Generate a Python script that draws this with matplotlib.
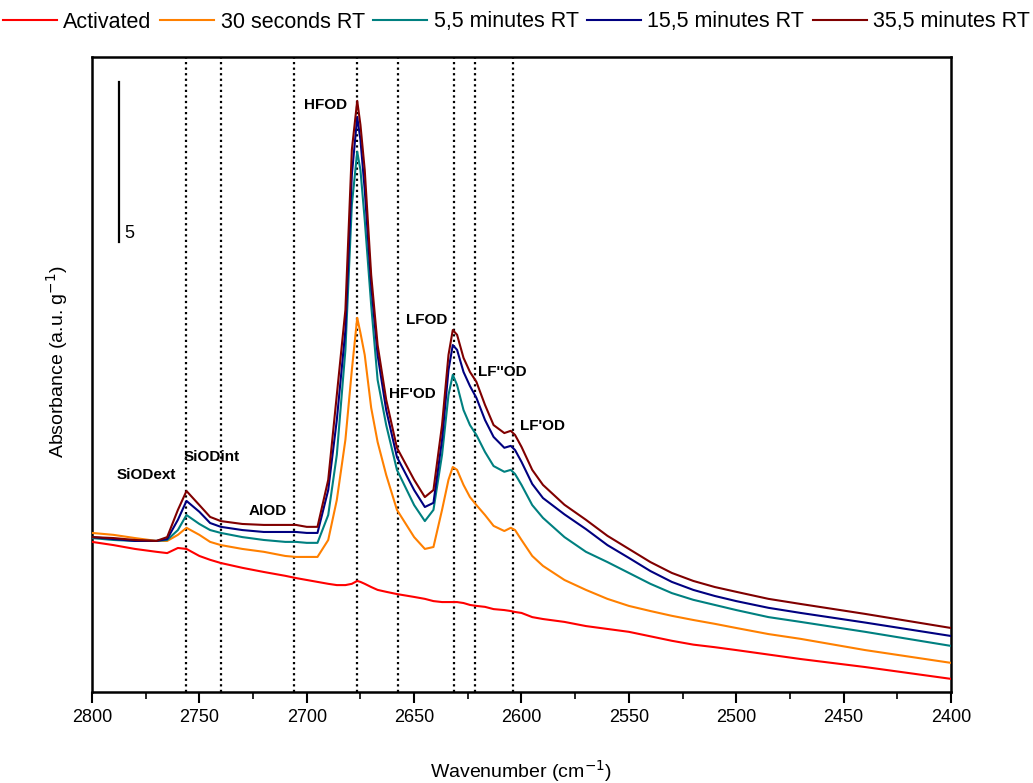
import matplotlib
matplotlib.use("Agg")
import matplotlib.pyplot as plt
from matplotlib.ticker import MultipleLocator

plt.rcParams['font.family'] = ['Liberation Sans', 'DejaVu Sans']

wavenumber = [2800, 2790, 2780, 2770, 2765, 2760, 2756, 2750, 2745, 2740, 2730, 2720, 2710, 2705,
              2700, 2695, 2690, 2686, 2682, 2679, 2676.5, 2675, 2673, 2670, 2667, 2663, 2658, 2650,
              2645, 2641, 2637, 2634, 2632, 2630, 2627, 2624, 2621, 2617, 2613, 2608, 2605, 2603,
              2600, 2595, 2590, 2580, 2570, 2560, 2550, 2540, 2530, 2520, 2510, 2500, 2485, 2470,
              2440, 2400]

activated = [4.69, 4.59, 4.47, 4.38, 4.34, 4.50, 4.47, 4.25, 4.13, 4.03, 3.88, 3.75, 3.63, 3.56,
             3.50, 3.44, 3.38, 3.34, 3.34, 3.38, 3.47, 3.44, 3.38, 3.28, 3.19, 3.13, 3.06, 2.97,
             2.91, 2.84, 2.81, 2.81, 2.81, 2.81, 2.78, 2.72, 2.69, 2.66, 2.59, 2.56, 2.53, 2.50,
             2.47, 2.34, 2.28, 2.19, 2.06, 1.97, 1.88, 1.74, 1.60, 1.48, 1.40, 1.31, 1.17, 1.03,
             0.78, 0.41]

sec30 = [4.97, 4.91, 4.81, 4.72, 4.72, 4.91, 5.13, 4.91, 4.69, 4.59, 4.47, 4.38, 4.25, 4.22,
         4.22, 4.22, 4.75, 6.00, 7.88, 10.06, 11.69, 11.22, 10.53, 8.88, 7.81, 6.78, 5.69, 4.84,
         4.47, 4.53, 5.69, 6.63, 7.03, 6.94, 6.47, 6.09, 5.84, 5.53, 5.19, 5.03, 5.13, 5.06,
         4.75, 4.25, 3.94, 3.50, 3.19, 2.91, 2.69, 2.53, 2.38, 2.25, 2.13, 2.00, 1.81, 1.66,
         1.31, 0.91]

min5_5 = [4.81, 4.75, 4.72, 4.72, 4.75, 5.06, 5.53, 5.25, 5.06, 4.97, 4.84, 4.75, 4.69, 4.69,
          4.66, 4.66, 5.53, 7.41, 10.69, 15.22, 16.88, 16.31, 14.75, 12.09, 9.75, 8.34, 6.94, 5.84,
          5.34, 5.69, 7.41, 9.28, 9.91, 9.59, 8.81, 8.34, 8.03, 7.50, 7.06, 6.88, 6.94, 6.81,
          6.47, 5.84, 5.44, 4.84, 4.38, 4.06, 3.72, 3.38, 3.09, 2.88, 2.72, 2.56, 2.34, 2.19,
          1.88, 1.44]

min15_5 = [4.84, 4.78, 4.72, 4.72, 4.78, 5.38, 5.97, 5.63, 5.28, 5.16, 5.06, 5.00, 5.00, 5.00,
           4.97, 4.97, 6.31, 8.50, 11.31, 16.16, 17.97, 17.25, 15.69, 12.72, 10.53, 8.81, 7.34, 6.31,
           5.78, 5.91, 7.88, 10.06, 10.84, 10.69, 10.00, 9.56, 9.19, 8.50, 7.97, 7.63, 7.69, 7.56,
           7.19, 6.50, 6.06, 5.55, 5.09, 4.59, 4.19, 3.78, 3.44, 3.19, 3.00, 2.84, 2.63, 2.47,
           2.17, 1.75]

min35_5 = [4.84, 4.81, 4.75, 4.72, 4.84, 5.69, 6.28, 5.84, 5.47, 5.34, 5.25, 5.22, 5.22, 5.22,
           5.16, 5.16, 6.63, 9.28, 11.94, 16.94, 18.47, 17.72, 16.31, 13.03, 10.84, 9.13, 7.63, 6.63,
           6.09, 6.31, 8.34, 10.53, 11.31, 11.16, 10.44, 10.00, 9.69, 8.97, 8.34, 8.09, 8.16, 8.03,
           7.66, 6.94, 6.47, 5.85, 5.38, 4.88, 4.47, 4.06, 3.72, 3.47, 3.28, 3.13, 2.91, 2.75,
           2.44, 2.00]

series_labels = ["Activated", "30 seconds RT", "5,5 minutes RT", "15,5 minutes RT", "35,5 minutes RT"]
series_colors = ["#FF0000", "#FF8000", "#008080", "#000080", "#800000"]

band_positions = [2756, 2740, 2706, 2676.5, 2657.5, 2631.5, 2621.5, 2604]
band_labels = ["SiODext", "SiODint", "AlOD", "HFOD", "LFOD", "HF'OD", "LF''OD", "LF'OD"]
band_label_xy = [(2788.4, 6.78), (2757.2, 7.34), (2726.9, 5.66), (2701.3, 18.34),
                 (2653.8, 11.63), (2661.7, 9.31), (2620.3, 10.0), (2600.7, 8.31)]

scale_bar_x = 2787.4
scale_bar_y = (14.06, 19.06)
scale_bar_label = "5"

fig = plt.figure(figsize=(10.33, 7.83), dpi=100)
ax = fig.add_axes([92/1033, 1 - 692/783, (951-92)/1033, (692-57)/783])

for xv in band_positions:
    ax.axvline(xv, color='black', linestyle=(0, (1, 1.5)), linewidth=1.6, zorder=1)

series = [activated, sec30, min5_5, min15_5, min35_5]
for ys, lab, col in zip(series, series_labels, series_colors):
    ax.plot(wavenumber, ys, color=col, linewidth=1.5, label=lab, zorder=3)

for lab, (xv, yv) in zip(band_labels, band_label_xy):
    ax.text(xv, yv, lab, fontsize=11, fontweight='bold', ha='left', va='center', zorder=4)

ax.plot([scale_bar_x, scale_bar_x], scale_bar_y, color='black', linewidth=1.6)
ax.text(scale_bar_x - 2.5, scale_bar_y[0] + 0.25, scale_bar_label, fontsize=13, ha='left', va='center')

ax.set_xlim(2800, 2400)
ax.set_ylim(0, 19.84)
ax.xaxis.set_major_locator(MultipleLocator(50))
ax.xaxis.set_minor_locator(MultipleLocator(25))
ax.set_yticks([])
ax.tick_params(axis='x', which='major', direction='out', length=8, width=1.5, labelsize=13, pad=4)
ax.tick_params(axis='x', which='minor', direction='out', length=5, width=1.2)
for sp in ax.spines.values():
    sp.set_linewidth(1.8)

ax.set_xlabel("Wavenumber (cm$^{-1}$)", fontsize=14, labelpad=23)
ax.set_ylabel("Absorbance (a.u. g$^{-1}$)", fontsize=14)
ax.yaxis.set_label_coords(-0.026, 0.52)

handles, labels = ax.get_legend_handles_labels()
fig.legend(handles, labels, loc='center', bbox_to_anchor=(0.5, 1 - 22/783), ncol=5, frameon=False,
           fontsize=15.5, handlelength=2.5, handletextpad=0.3, columnspacing=0.4)

fig.savefig("out.png", dpi=100)
